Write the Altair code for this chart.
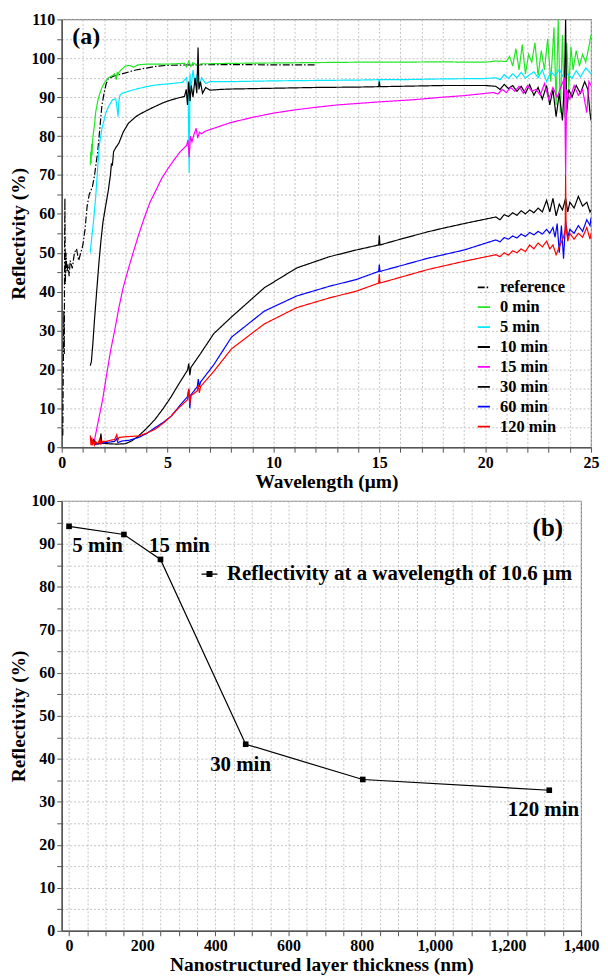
import altair as alt
import pandas as pd

FONT = "'Liberation Serif', 'Times New Roman', Times, serif"

# ---------------- Panel (a) data: wavelength (um) vs reflectivity (%) ----------------
ref_x = [0.05,0.07,0.09,0.10,0.12,0.14,0.15,0.17,0.20,0.25,0.30,0.35,0.40,0.50,0.60,0.70,0.80,0.90,1.00,1.10,
         1.20,1.30,1.45,1.55,1.70,1.80,1.90,2.00,2.10,2.20,2.50,2.85,3.50,4.40,5.00,6.00,8.00,10.0,12.0]
ref_y = [3,18,30,35,24,55,64,42,50,45,47,44,48,46,50,51,48,50,52,56,
         62,65,67,70,76,82,88,91,93.5,94.8,95.5,96,97,97.9,98.2,98.3,98.4,98.3,98.3]

m0_x = [1.35,1.37,1.39,1.41,1.43,1.46,1.50,1.55,1.60,1.70,1.80,1.90,2.00,2.20,2.40,2.50,2.58,2.62,2.66,2.70,
        2.80,3.00,3.20,3.40,3.60,4.00,5.00,5.80,5.90,6.00,6.10,6.20,6.40,6.60,7.00,8.00,10.0,12.0,14.0,16.0,
        18.0,19.0,20.0,20.5,
        21.0,21.15,21.3,21.45,21.6,21.75,21.9,22.05,22.2,22.35,22.5,22.65,22.8,22.95,23.1,23.25,23.35,23.45,23.55,23.65,
        23.75,23.85,23.95,24.05,24.15,24.3,24.45,24.6,24.75,24.9,25.0]
m0_y = [72.5,76,73,78,75,79,81,83,86,89,91,92.5,93.5,95,95.6,96,94.5,96.5,95.8,96.4,
        97,98,98.2,97.7,98.3,98.5,98.5,98.7,97.8,99.2,97.9,98.9,98.2,98.6,98.6,98.7,98.8,98.9,99,99,
        99.1,99,99,99.3,
        99.2,100.5,98,102.5,97,103.5,96,101,99,104,95.5,102,97,105,94,108,88,110,86,106,
        85,104,92,103,97,102,98,101,99,103,106]

m5_x = [1.35,1.40,1.50,1.60,1.70,1.77,1.90,2.08,2.20,2.39,2.55,2.62,2.66,2.70,2.75,2.85,3.20,3.60,4.00,4.40,
        5.17,5.70,5.90,5.97,6.02,6.06,6.10,6.20,6.30,6.40,6.50,6.60,6.80,7.00,8.00,10.0,12.0,14.0,14.98,15.0,
        15.02,16.0,18.0,20.0,
        20.5,20.7,20.9,21.1,21.3,21.5,21.7,21.9,22.1,22.3,22.5,22.7,22.9,23.1,23.3,23.5,23.7,23.9,24.1,24.3,
        24.5,24.75,25.0]
m5_y = [50,53,58,64,72,77.4,82,85.9,87.5,89.3,89.6,87,85,89,90.5,91,91.6,92.2,92.7,93.1,
        93.5,93.8,95,91,70.5,96,92,97,93,96,92.5,95,93.5,94,94,94.2,94.3,94.4,94.5,92.8,
        94.5,94.5,94.7,94.8,
        95,94.5,95.8,94.8,96,95,96.4,94.9,95.8,96.5,95,97,94,96.5,95.5,97.2,95,96,94.8,96.8,
        95.2,97.5,96]

m10_x = [1.35,1.40,1.47,1.55,1.65,1.75,1.85,1.95,2.08,2.20,2.30,2.35,2.39,2.45,2.55,2.70,2.90,3.15,3.50,3.78,
         4.10,4.40,4.80,5.17,5.50,5.80,5.88,5.94,6.00,6.06,6.12,6.20,6.30,6.38,6.44,6.48,6.55,6.65,6.80,7.00,
         7.50,8.00,9.00,10.0,12.0,14.0,14.97,15.0,15.03,16.0,18.0,20.0,
         20.5,20.7,20.9,21.1,21.3,21.5,21.7,21.9,22.1,22.3,22.5,22.7,22.9,23.05,23.2,23.35,23.5,23.65,23.75,23.8,
         23.85,23.95,24.1,24.3,24.5,24.7,24.85,24.95,25.0]
m10_y = [21,22,26.6,33,40,47,53,58,62.2,66,70,73,72.4,76,77,78.2,81,83.3,85,85.9,
         86.8,87.6,88.6,89.3,89.8,90.2,92,88,94,89,93,90,95,91,102.8,92,94,91,92.5,91.8,
         92,92.1,92.2,92.3,92.5,92.6,92.7,94,92.7,92.8,93,93,
         92.8,92,93.3,92.2,93,91.5,92.8,91,93.2,90.5,92.5,89.5,93,88,92,85,91,84,95,110,
         86,92,90,93,91,94,92,86,84]

m15_x = [1.40,1.45,1.54,1.70,1.93,2.10,2.31,2.50,2.70,2.90,3.16,3.40,3.63,3.90,4.17,4.40,4.70,5.00,5.32,5.60,
         5.90,5.96,6.02,6.08,6.15,6.25,6.35,6.42,6.50,6.60,6.80,7.18,8.00,9.00,10.0,11.1,12.0,13.0,14.0,15.0,
         16.5,18.0,19.0,20.4,
         20.6,20.8,21.0,21.2,21.4,21.6,21.8,22.0,22.2,22.4,22.6,22.8,23.0,23.2,23.4,23.6,23.75,23.8,23.85,24.0,
         24.2,24.4,24.6,24.8,24.9,25.0]
m15_y = [0.5,1,1.6,6,12.2,18,24.9,30,35.9,41,46.1,50.5,54.6,59,63,65.5,68.9,71.5,74,76,
         77.6,79,74.5,80,78.5,80.5,82,79.5,81,80.6,81.3,82,83.5,84.8,85.9,86.8,87.4,88,88.4,88.8,
         89.3,90,90.4,91.2,
         90.8,92,91.2,92.5,91.5,92.8,91,93,91.5,92,90.5,93.5,89.5,92.5,90,93,95,70,92,89.5,
         93,90.5,92,86,94,93]

m30_x = [1.40,1.50,1.60,1.80,1.85,1.90,2.20,2.60,3.00,3.30,3.63,4.00,4.40,4.80,5.17,5.50,5.94,6.00,6.05,6.10,
         6.56,7.18,8.02,9.57,11.1,12.65,13.9,14.97,15.0,15.03,16.0,17.3,18.0,19.0,20.5,
         20.7,20.9,21.1,21.3,21.5,21.7,21.9,22.1,22.3,22.5,22.7,22.9,23.05,23.2,23.35,23.5,23.65,23.8,23.9,24.0,
         24.2,24.4,24.6,24.8,24.95,25.0]
m30_y = [1.2,2.0,0.8,0.9,3.5,1.0,0.9,0.8,0.9,1.6,2.9,4.8,7.1,10,13,16,19.8,21.5,18.5,20.5,
         24.1,29.2,33.5,41,46.1,49,50.7,52,54.5,52,53.5,55.4,56.3,57.5,59.2,
         58.5,59.8,59.3,60.3,59.6,60.8,60,61,60.3,61.5,60.5,63.5,60.5,64,59.5,62.5,61,64,60.5,63,
         61.5,64.5,62,63,60.5,61]

m60_x = [1.40,1.60,1.80,2.08,2.50,2.60,2.65,2.85,3.20,3.63,4.00,4.40,4.80,5.17,5.50,5.94,6.00,6.05,6.10,6.40,
         6.45,6.50,6.56,7.18,8.02,9.57,11.1,12.65,13.9,14.97,15.0,15.03,17.3,19.0,20.5,
         20.7,20.9,21.1,21.3,21.5,21.7,21.9,22.1,22.3,22.5,22.7,22.9,23.05,23.2,23.3,23.4,23.5,23.6,23.7,23.8,
         23.9,24.0,24.2,24.4,24.6,24.8,24.95,25.0]
m60_y = [1.5,0.8,1.0,1.2,1.5,2.2,1.2,1.6,1.8,2.5,3.5,5,6.4,8,10.2,13,15,10,13.5,15.5,
         17.5,15.5,16.8,21.2,28.3,35,38.9,41.4,43.1,45.2,47,45.2,48.6,50.7,53.3,
         52.8,53.9,53.5,54.3,53.8,54.8,54.2,55.2,54.6,55.5,54.8,56,55,56.5,54,57.5,50,57,48.5,58,
         54,56,55,57,55.5,58.5,57,59]

m120_x = [1.35,1.38,1.42,1.46,1.50,1.55,1.60,1.70,1.80,1.85,1.95,2.10,2.30,2.50,2.60,2.65,2.70,3.00,3.63,4.00,
          4.40,4.80,5.17,5.50,5.94,6.00,6.05,6.10,6.40,6.45,6.50,6.56,7.18,8.02,9.57,11.1,12.65,13.9,14.97,15.0,
          15.03,17.3,19.0,20.5,
          20.7,20.9,21.1,21.3,21.5,21.7,21.9,22.1,22.3,22.5,22.7,22.9,23.05,23.2,23.35,23.5,23.7,23.78,23.8,23.82,
          23.9,24.0,24.2,24.4,24.6,24.8,24.95,25.0]
m120_y = [3,0.5,2.5,0.5,1.8,0.6,1.5,0.8,2.2,0.8,1.5,1.5,1.8,2.0,3.2,1.8,2.5,2.7,2.9,3.6,
          4.6,6.2,8,10,12.2,15,11,13.2,14.5,16,14,15.6,19.5,25.3,31.7,35.9,38.4,40.1,42.2,44.5,
          42.2,45.7,47.8,49.5,
          49,50,49.4,50.5,50,51,50.3,52,51,52.5,51.5,53,51,52,49.5,51.5,54,56,70,57,
          53,55,53.5,55,54,56.5,53.5,55]

series_names = ["reference", "0 min", "5 min", "10 min", "15 min", "30 min", "60 min", "120 min"]
series_data = [(ref_x, ref_y), (m0_x, m0_y), (m5_x, m5_y), (m10_x, m10_y),
               (m15_x, m15_y), (m30_x, m30_y), (m60_x, m60_y), (m120_x, m120_y)]
series_colors = ["#000000", "#22e622", "#00e8ff", "#000000", "#ff00ff", "#000000", "#0000ff", "#ff0000"]
series_dashes = [[7, 2, 1.5, 2], [1, 0], [1, 0], [1, 0], [1, 0], [1, 0], [1, 0], [1, 0]]

rows = []
for name, (xs, ys) in zip(series_names, series_data):
    assert len(xs) == len(ys), name
    for xv, yv in zip(xs, ys):
        rows.append({"wl": xv, "r": yv, "s": name})
df_a = pd.DataFrame(rows)

# ---------------- Panel (b) data ----------------
thickness = [0, 150, 250, 483, 803, 1313]
refl_106 = [94.1, 92.2, 86.4, 43.4, 35.2, 32.7]
b_series = "Reflectivity at a wavelength of 10.6 μm"
df_b = pd.DataFrame({"t": thickness, "r": refl_106, "lab": [b_series] * len(thickness)})

ann_b_text = ["5 min", "15 min", "30 min", "120 min"]
ann_b_x = [78, 302, 469, 1297]
ann_b_y = [89.5, 89.5, 38.5, 28.2]
df_ann_b = pd.DataFrame({"t": ann_b_x, "r": ann_b_y, "txt": ann_b_text})

# ---------------- Panel (a) chart ----------------
xa = alt.X("wl:Q", scale=alt.Scale(domain=[0, 25], nice=False, zero=False),
           axis=alt.Axis(values=list(range(0, 26)), grid=True,
                         labelExpr="datum.value % 5 == 0 ? datum.label : ''",
                         title="Wavelength (μm)"))
ya = alt.Y("r:Q", scale=alt.Scale(domain=[0, 110], nice=False),
           axis=alt.Axis(values=list(range(0, 111, 5)), grid=True,
                         labelExpr="datum.value % 10 == 0 ? datum.label : ''",
                         title="Reflectivity (%)"))

leg_a = alt.Legend(orient="none", legendX=416, legendY=261, title=None,
                   symbolType="stroke", symbolSize=150, symbolStrokeWidth=1.8,
                   labelFontSize=16.5, labelOffset=8, rowPadding=3,
                   labelFont=FONT, labelFontWeight="bold", labelColor="black")

lines_a = alt.Chart(df_a).mark_line(strokeWidth=1.2, clip=True).encode(
    x=xa, y=ya,
    color=alt.Color("s:N", scale=alt.Scale(domain=series_names, range=series_colors), legend=leg_a),
    strokeDash=alt.StrokeDash("s:N", scale=alt.Scale(domain=series_names, range=series_dashes), legend=leg_a),
)

df_tag_a = pd.DataFrame({"wl": [0.5], "r": [105.5], "txt": ["(a)"]})
tag_a = alt.Chart(df_tag_a).mark_text(align="left", baseline="middle", font=FONT, fontSize=24,
                                      fontWeight="bold", color="black").encode(
    x=xa, y=ya, text="txt:N")

panel_a = alt.layer(lines_a, tag_a).properties(width=532, height=430)

# ---------------- Panel (b) chart ----------------
xb = alt.X("t:Q", scale=alt.Scale(domain=[-20, 1400], nice=False, zero=False),
           axis=alt.Axis(values=list(range(0, 1401, 50)), grid=True,
                         labelExpr="datum.value % 200 == 0 ? format(datum.value, ',') : ''",
                         title="Nanostructured layer thickness (nm)"))
yb = alt.Y("r:Q", scale=alt.Scale(domain=[0, 100], nice=False),
           axis=alt.Axis(values=list(range(0, 101, 5)), grid=True,
                         labelExpr="datum.value % 10 == 0 ? datum.label : ''",
                         title="Reflectivity (%)"))

leg_b = alt.Legend(orient="none", legendX=138, legendY=63, title=None,
                   symbolType="M-1,0L1,0M-0.3,-0.3L0.3,-0.3L0.3,0.3L-0.3,0.3Z",
                   symbolSize=256, symbolStrokeWidth=1.2, symbolFillColor="black",
                   symbolStrokeColor="black", labelLimit=600,
                   labelFontSize=21, labelOffset=7,
                   labelFont=FONT, labelFontWeight="bold", labelColor="black")

color_b = alt.Color("lab:N", scale=alt.Scale(domain=[b_series], range=["black"]), legend=leg_b)
line_b = alt.Chart(df_b).mark_line(strokeWidth=1.2).encode(x=xb, y=yb, color=color_b)
pts_b = alt.Chart(df_b).mark_point(shape="square", filled=True, size=32, opacity=1).encode(
    x=xb, y=yb, color=color_b)

ann_b = alt.Chart(df_ann_b).mark_text(align="center", baseline="middle", font=FONT, fontSize=21,
                                      fontWeight="bold", color="black").encode(
    x=xb, y=yb, text="txt:N")

df_tag_b = pd.DataFrame({"t": [1309], "r": [93.7], "txt": ["(b)"]})
tag_b = alt.Chart(df_tag_b).mark_text(align="center", baseline="middle", font=FONT, fontSize=25,
                                      fontWeight="bold", color="black").encode(
    x=xb, y=yb, text="txt:N")

panel_b = alt.layer(line_b, pts_b, ann_b, tag_b).properties(width=522, height=432)

chart = alt.vconcat(panel_a, panel_b, spacing=0).resolve_scale(
    color="independent", strokeDash="independent", x="independent", y="independent"
).resolve_legend(color="independent", strokeDash="independent").properties(
    padding={"left": 0, "top": 0, "right": 0, "bottom": 0}
).configure_axis(
    labelFont=FONT, labelFontWeight="bold", labelFontSize=16, labelColor="black",
    titleFont=FONT, titleFontWeight="bold", titleFontSize=19.5, titleColor="black",
    gridColor="#bdbdbd", gridDash=[2, 2], gridWidth=0.9,
    domainColor="#555555", domainWidth=1.5, tickColor="#555555", tickSize=5,
    labelPadding=2, titlePadding=2, labelOverlap=False, labelFlush=False,
).configure_view(stroke="#888888", strokeWidth=1.2).configure_legend(
    labelFont=FONT, labelFontWeight="bold"
)

chart.save("out.html", embed_options={"renderer": "svg", "actions": False})
